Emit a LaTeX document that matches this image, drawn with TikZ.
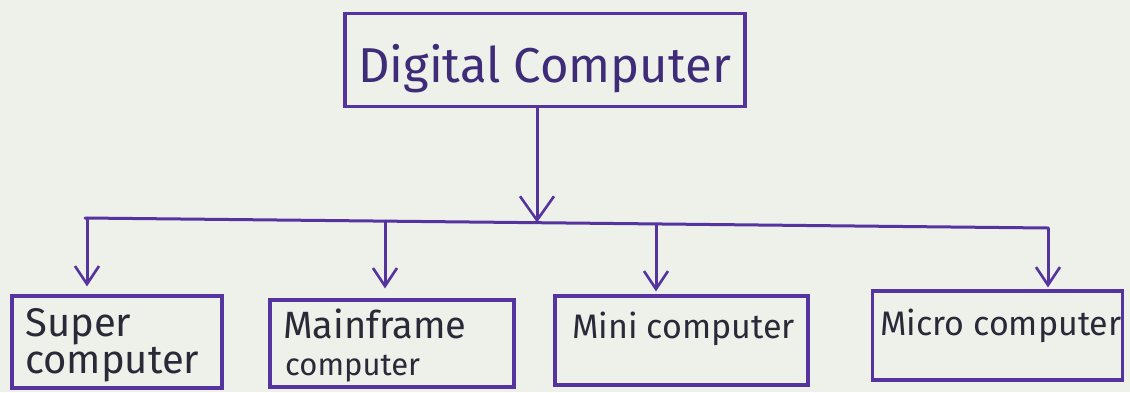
\documentclass[tikz,border=0pt]{standalone}
\usepackage{fontspec}
\setmainfont{Fira Sans}
\usetikzlibrary{arrows.meta}
\definecolor{paper}{HTML}{EEF0EA}
\definecolor{ink}{HTML}{5634A0}
\definecolor{pen}{HTML}{2B2838}
\definecolor{headink}{HTML}{3E2C78}
\tikzset{
  box/.style={draw=ink, line width=3.2pt, inner sep=0pt},
  conn/.style={draw=ink, line width=3pt, line cap=round},
  bigtip/.style={-{Straight Barb[length=24pt, width=34pt, line width=2.6pt]}},
  smalltip/.style={-{Straight Barb[length=18pt, width=24pt, line width=2.6pt]}},
  label/.style={text=pen, inner sep=0pt, anchor=base west},
}
\begin{document}
\begin{tikzpicture}[x=1pt,y=-1pt]
  % paper and page frame
  \fill[paper] (0,0) rectangle (1130,392);
  \useasboundingbox (0,0) rectangle (1130,392);

  % root box
  \node[box, minimum width=400pt, minimum height=93pt] (digital) at (545,60) {};
  \node[text=headink, inner sep=0pt, anchor=base west, font=\fontsize{49}{54}\selectfont] (digitalT) at (358,82) {Digital Computer};

  % child boxes
  \node[box, minimum width=210pt, minimum height=92pt] (super) at (117,342) {};
  \node[box, minimum width=244pt, minimum height=87pt] (mainframe) at (392,343.5) {};
  \node[box, minimum width=253pt, minimum height=89pt] (mini) at (681.5,340.5) {};
  \node[box, minimum width=250pt, minimum height=89pt] (micro) at (997.5,335.5) {};

  % child labels
  \node[label, font=\fontsize{40}{44}\selectfont] (superA) at (25,336) {Super};
  \node[label, font=\fontsize{40}{44}\selectfont] (superB) at (25,373) {computer};
  \node[label, font=\fontsize{38}{42}\selectfont] (mainA) at (283,338) {Mainframe};
  \node[label, font=\fontsize{31}{34}\selectfont] (mainB) at (285,375) {computer};
  \node[label, font=\fontsize{34}{38}\selectfont] (miniT) at (572,338) {Mini computer};
  \node[label, font=\fontsize{34}{38}\selectfont] (microT) at (880,335) {Micro computer};

  % trunk and bus
  \coordinate (hub) at (537,222.5);
  \coordinate (busL) at (85,218);
  \coordinate (busR) at (1048,228);
  \draw[conn, bigtip] (digital.south -| hub) -- (hub);
  \draw[conn] (busL) -- (busR);

  % drops to the children
  \coordinate (d1) at (87,218);
  \coordinate (d2) at (385,221);
  \coordinate (d3) at (656,224);
  \coordinate (d4) at (1048,228);
  \draw[conn, smalltip, shorten >=8pt] (d1) -- (d1 |- super.north);
  \draw[conn, smalltip, shorten >=10pt] (d2) -- (d2 |- mainframe.north);
  \draw[conn, smalltip, shorten >=3pt] (d3) -- (d3 |- mini.north);
  \draw[conn, smalltip, shorten >=2pt] (d4) -- (d4 |- micro.north);
\end{tikzpicture}
\end{document}
